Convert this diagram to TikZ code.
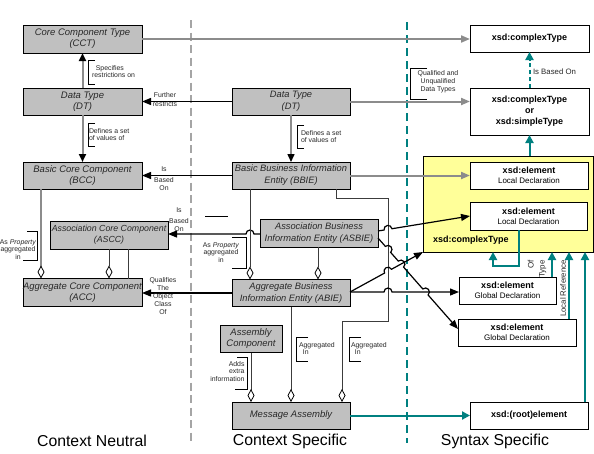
\documentclass[tikz,border=0pt]{standalone}
\usepackage{fontspec}
\setmainfont{Liberation Sans}
\usetikzlibrary{arrows.meta,calc}
\definecolor{nodegray}{RGB}{192,192,192}
\definecolor{lgray}{RGB}{140,140,140}
\definecolor{dashgray}{RGB}{165,165,165}
\definecolor{teal1}{RGB}{0,128,128}
\definecolor{yelfill}{RGB}{255,255,153}
\definecolor{txt}{RGB}{40,40,40}
\definecolor{dline}{RGB}{60,60,60}
\begin{document}
\begin{tikzpicture}[x=1pt,y=-1pt,
  gbox/.style={draw=black,line width=0.8pt,fill=nodegray,inner sep=0pt,outer sep=0pt,align=center,text=txt,font=\fontsize{9.5}{11}\selectfont\itshape},
  xbox/.style={draw=black,line width=0.8pt,fill=white,inner sep=0pt,outer sep=0pt,align=center,font=\fontsize{9}{10}\selectfont},
  sz/.style 2 args={minimum width=#1pt,minimum height=#2pt},
  lbl/.style={inner sep=0pt,outer sep=0pt,text=txt,font=\fontsize{6.9}{7.8}\selectfont},
  brk/.style={draw=black,line width=0.6pt},
  garrow/.style={draw=lgray,line width=2pt,-{Triangle[length=9pt,width=7pt,color=lgray]}},
  gbarrow/.style={draw=lgray,line width=2pt,-{Triangle[length=8pt,width=7pt,color=black]}},
  barrow/.style={draw=black,line width=1.2pt,-{Triangle[length=9pt,width=7pt]}},
  tarrow/.style={draw=teal1,line width=2pt,-{Triangle[length=8pt,width=8pt,color=teal1]}},
  agg/.style={draw=dline,line width=0.9pt,-{Diamond[length=13pt,width=7pt,color=black,fill=white,line width=0.8pt]}},
  gagg/.style={draw=lgray,line width=2pt,-{Diamond[length=13pt,width=7pt,color=black,fill=white,line width=0.8pt]}},
  plainl/.style={draw=dline,line width=0.9pt},
  big/.style={inner sep=0pt,font=\fontsize{15.8}{18}\selectfont,text=black},
]
\useasboundingbox (0,0) rectangle (594,453);
\fill[white] (0,0) rectangle (594,453);

% separators
\draw[dashgray,line width=2.5pt,dash pattern=on 8pt off 4.5pt] (191,20) -- (191,442);
\draw[teal1,line width=2.5pt,dash pattern=on 8pt off 5pt] (407,22) -- (407,443);

% context neutral
\node[gbox,sz={119}{28}] (cct) at (82.5,39) {Core Component Type\\(CCT)};
\node[gbox,sz={119}{27}] (dtl) at (82.5,101.5) {Data Type\\(DT)};
\node[gbox,sz={119}{27}] (bcc) at (82.5,175.5) {Basic Core Component\\(BCC)};
\node[gbox,sz={118}{28},font=\fontsize{8.8}{11}\selectfont\itshape] (ascc) at (109,235) {Association Core Component\\(ASCC)};
\node[gbox,sz={119}{28}] (acc) at (82.5,292.5) {Aggregate Core Component\\(ACC)};

% context specific
\node[gbox,sz={118}{27},font=\fontsize{9.3}{11.5}\selectfont\itshape] (dtm) at (291,101.5) {Data Type\\(DT)};
\node[gbox,sz={118}{27},font=\fontsize{9.3}{12}\selectfont\itshape] (bbie) at (291,175.5) {Basic Business Information\\Entity (BBIE)};
\node[gbox,sz={118}{28},font=\fontsize{9.3}{12.5}\selectfont\itshape] (asbie) at (319,233) {Association Business\\Information Entity (ASBIE)};
\node[gbox,sz={118}{27},font=\fontsize{9.3}{12}\selectfont\itshape] (abie) at (291,293) {Aggregate Business\\Information Entity (ABIE)};
\node[gbox,sz={62}{27}] (asmc) at (251,339) {Assembly\\Component};
\node[gbox,sz={118}{27}] (msga) at (291,415.5) {Message Assembly};

% syntax specific
\node[xbox,sz={119}{27}] (xct) at (529.5,38.5) {\textbf{xsd:complexType}};
\node[xbox,sz={119}{47},font=\fontsize{9}{11}\selectfont] (xcs) at (529.5,111.5) {\textbf{xsd:complexType}\\\textbf{or}\\\textbf{xsd:simpleType}};
\node[draw=black,line width=0.8pt,fill=yelfill,inner sep=0pt,outer sep=0pt,sz={170}{96}] (ybox) at (508,204) {};
\node[inner sep=0pt,anchor=west,font=\fontsize{9}{10}\selectfont\bfseries] (ylab) at (433,240) {xsd:complexType};
\node[xbox,sz={118}{27}] (ld1) at (529,175.5) {\textbf{xsd:element}\\{\fontsize{8}{9}\selectfont Local Declaration}};
\node[xbox,sz={117}{28}] (ld2) at (528.5,216) {\textbf{xsd:element}\\{\fontsize{8}{9}\selectfont Local Declaration}};
\node[xbox,sz={97}{27}] (gd1) at (507.5,290.5) {\textbf{xsd:element}\\{\fontsize{8}{9}\selectfont Global Declaration}};
\node[xbox,sz={118}{27}] (gd2) at (517,332.5) {\textbf{xsd:element}\\{\fontsize{8}{9}\selectfont Global Declaration}};
\node[xbox,sz={118}{27}] (root) at (529,415.5) {\textbf{xsd:(root)element}};

% bottom titles
\node[big] (t1) at (92,441) {Context Neutral};
\node[big] (t2) at (290,441) {Context Specific};
\node[big] (t3) at (495,441) {Syntax Specific};

% gray connectors to xsd
\draw[garrow] (cct.east) -- (xct.west |- cct.east);
\draw[garrow] (dtm.east) -- (xcs.west |- dtm.east);
\draw[garrow] (bbie.east) -- (ld1.west);

% vertical context neutral
\draw[gbarrow] (dtl.north) -- (cct.south);
\draw[gbarrow] (dtl.south) -- (bcc.north);
\draw[draw=lgray,line width=1.5pt,-{Triangle[length=8pt,width=7pt,color=black]}] (dtm.south) -- (bbie.north);
\draw[gagg] (bcc.south -| 41,0) -- (acc.north -| 41,0);
\draw[agg] (ascc.south -| 109,0) -- (acc.north -| 109,0);
\draw[plainl] (ascc.south -| 128,0) -- (acc.north -| 128,0);

% horizontal black arrows
\draw[barrow] (dtm.west) -- (dtl.east);
\draw[barrow] (bbie.west) -- (bcc.east);
\draw[barrow] (asbie.west |- 0,234) -- (254,234) arc[start angle=0,end angle=-180,radius=4] -- (ascc.east |- 0,234);
\draw[barrow] (abie.west) -- (acc.east |- abie.west);

% aggregation in context specific
\draw[agg] (bbie.south -| 250,0) -- (abie.north -| 250,0);
\draw[agg] (asbie.south -| 318,0) -- (abie.north -| 318,0);
\draw[agg] (asmc.south) -- (msga.north -| asmc.south);
\draw[agg] (abie.south) -- (msga.north);
\draw[agg] (bbie.south -| 336,0) -- (336,198) -- (388,198) -- (388,321) -- (342,321) -- (msga.north -| 342,0);

% crossing black arrows to syntax
\coordinate (a1) at (378,231);
\coordinate (h1) at ($(a1)!0.1087!(ld2.west)$);
\draw[barrow] (a1) -- ($(h1)!4pt!(a1)$) arc[start angle=170.74,end angle=350.74,radius=4] -- (ld2.west);

\draw[barrow] (350,292) -- (384,292) arc[start angle=180,end angle=360,radius=4] -- (gd1.west |- 0,292);

\coordinate (a4) at (350,292);
\coordinate (h4) at ($(a4)!0.5205!(ybox.south west)$);
\draw[barrow] (a4) -- ($(h4)!4pt!(a4)$) arc[start angle=151.28,end angle=331.28,radius=4] -- (ybox.south west);

\coordinate (a2) at (378,238);
\coordinate (b2) at (458,329);
\coordinate (h21) at ($(a2)!0.125!(b2)$);
\coordinate (h22) at ($(a2)!0.2867!(b2)$);
\coordinate (h23) at ($(a2)!0.593!(b2)$);
\draw[barrow] (a2) -- ($(h21)!4pt!(a2)$) arc[start angle=228.67,end angle=408.67,radius=4]
  -- ($(h22)!4pt!(a2)$) arc[start angle=228.67,end angle=408.67,radius=4]
  -- ($(h23)!4pt!(a2)$) arc[start angle=228.67,end angle=408.67,radius=4] -- (b2);

% teal connectors
\draw[tarrow,dash pattern=on 4pt off 3pt] (xcs.north) -- (xct.south);
\draw[tarrow] (ybox.north -| xcs.south) -- (xcs.south);
\draw[tarrow] (ld2.south -| 519,0) -- (519,266) -- (493,266) -- (ybox.south -| 493,0);
\draw[tarrow] (gd1.north -| 552,0) -- (ybox.south -| 552,0);
\draw[tarrow] (gd2.north -| 569,0) -- (ybox.south -| 569,0);
\draw[tarrow] (root.north -| 585,0) -- (ybox.south -| 585,0);
\draw[tarrow] (msga.east) -- (root.west);

% labels
\node[lbl,font=\fontsize{7.8}{9}\selectfont,anchor=west] (lisb) at (533,72) {Is Based On};
\node[lbl,font=\fontsize{8}{11}\selectfont,align=right,rotate=90] (loft) at (537,269) {Of\\Type};
\node[lbl,font=\fontsize{7.8}{9}\selectfont,rotate=90] (llr) at (563,288.5) {Local Reference};

\draw[brk] (95,60) -- (88,60) -- (88,84) -- (95,84);
\node[lbl,align=left,anchor=west] (lspec) at (92,71.5) {\ \ Specifies\\restrictions on};
\draw[brk] (95,123) -- (88,123) -- (88,146) -- (95,146);
\node[lbl,align=left,anchor=west] (ldef1) at (89,134.5) {Defines a set\\of values of};
\draw[brk] (304,125) -- (297,125) -- (297,148) -- (304,148);
\node[lbl,align=left,anchor=west] (ldef2) at (301,136.5) {Defines a set\\of values of};
\node[lbl,align=center] (lfur) at (165,99.5) {Further\\[2pt]restricts};
\node[lbl,align=center] (lisb1) at (164,178.5) {Is\\[4pt]Based\\On};
\node[lbl,align=center] (lisb2) at (179,219.5) {Is\\[3pt]Based\\On};
\draw[brk] (205,216.5) -- (228,216.5);
\node[lbl,align=center] (lqual) at (163,296) {Qualifies\\The\\Object\\Class\\Of};
\draw[brk] (27,231) -- (37,231) -- (37,260) -- (23,260);
\node[lbl,align=center] (lasp1) at (18,249.5) {As \textit{Property}\\aggregated\\in};
\draw[brk] (232,237) -- (246,237) -- (246,268) -- (232,268);
\node[lbl,align=center] (lasp2) at (221,252.5) {As \textit{Property}\\aggregated\\in};
\draw[brk] (237,357) -- (247,357) -- (247,389) -- (235,389);
\node[lbl,align=right,anchor=east] (ladd) at (244.5,371.5) {Adds\\extra\\information};
\draw[brk] (308,337) -- (296,337) -- (296,361) -- (308,361);
\node[lbl,align=left,anchor=west] (lag1) at (299,348.5) {Aggregated\\\ \ In};
\draw[brk] (361,337) -- (349,337) -- (349,361) -- (361,361);
\node[lbl,align=left,anchor=west] (lag2) at (351,348.5) {Aggregated\\\ \ In};
\draw[brk] (427,68) -- (410,68) -- (410,99) -- (427,99);
\node[lbl,align=center] (lqd) at (438,82) {Qualified and\\Unqualified\\Data Types};
\end{tikzpicture}
\end{document}
